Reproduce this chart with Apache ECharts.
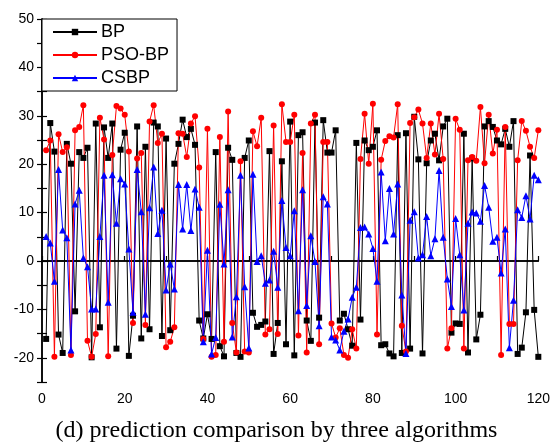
<!DOCTYPE html>
<html>
<head>
<meta charset="utf-8">
<script src="https://cdn.jsdelivr.net/npm/echarts@6/dist/echarts.min.js"></script>
<style>
html,body{margin:0;padding:0;background:#fff;}
#c{width:553px;height:442px;}
</style>
</head>
<body>
<div id="c"></div>
<script>
const samples = Array.from({length:120},(_,i)=>i+1);
const bp = [-16.1,28.5,22.6,-15.2,-19.0,24.2,20.1,-10.4,22.5,21.3,23.4,-19.9,28.4,-13.7,27.6,21.3,28.4,-18.1,23.0,26.5,-19.6,-11.3,27.8,-16.0,23.6,-14.1,28.6,27.8,-15.5,25.3,-14.3,20.1,24.2,29.2,25.6,27.3,24.0,-12.3,-16.0,-11.0,-16.1,22.5,-17.6,-19.7,23.4,20.9,-19.0,-19.8,21.3,24.9,-10.7,-13.6,-13.2,-12.5,22.7,-19.2,-12.8,20.6,-17.2,28.8,-19.5,26.0,26.6,-12.3,-16.5,28.6,-11.7,29.1,22.4,22.4,27.0,-12.3,-10.9,-14.1,-17.5,24.4,-12.1,24.9,22.9,23.6,27.0,-17.4,-17.2,-19.1,-19.7,26.0,-19.0,26.4,-18.1,29.8,21.0,-19.1,20.2,24.9,26.3,20.8,27.8,29.4,-14.8,-12.9,-13.0,26.3,-18.9,21.2,-16.2,-11.1,27.8,28.9,27.7,24.9,24.1,27.3,23.6,28.9,-19.2,-17.9,-10.6,21.8,-10.1,-19.8];
const psobp = [22.9,24.9,-19.8,26.2,22.5,23.5,-19.4,27.0,27.7,32.2,-16.5,-19.8,-15.1,29.6,25.1,-19.7,21.9,32.0,31.5,30.2,22.6,-12.8,21.2,22.3,-13.2,28.8,32.2,24.4,26.3,-17.8,-16.7,-13.7,26.4,26.3,21.5,28.4,29.9,19.3,-16.1,27.3,-19.8,-19.4,25.6,-16.7,30.9,-12.8,-18.9,20.6,-18.7,-18.9,26.8,23.7,29.6,-15.2,-14.1,28.0,-15.1,32.4,24.6,24.6,30.2,-15.4,22.3,-18.9,28.4,30.2,-17.2,24.6,24.6,-12.9,-15.8,-13.9,-19.4,-20.0,-14.1,-18.1,21.1,30.4,20.1,32.5,-15.2,20.9,24.8,25.8,25.5,32.4,-13.4,-18.7,28.5,29.7,31.3,28.4,21.3,28.4,22.0,30.4,21.1,-18.1,-13.9,29.4,27.1,-18.1,20.8,21.5,20.7,31.8,20.2,30.2,22.2,27.1,-19.4,27.7,-13.0,-13.0,20.8,28.9,26.9,23.6,21.3,27.0];
const csbp = [5.05,3.7,-4.2,18.9,6.4,4.8,-18.4,11.8,14.6,0.6,-1.2,-9.9,-9.9,5.05,17.7,-8.5,17.8,7.8,17.0,15.9,2.5,-10.6,18.9,10.2,-11.0,11.0,19.4,5.7,10.5,-6.0,-0.6,-5.8,15.8,6.6,15.8,6.3,14.9,11.1,-16.7,2.2,-19.2,-15.8,11.7,-0.6,14.7,-15.7,-7.4,17.7,-5.3,-18.0,17.9,-0.1,1.1,-4.6,-3.9,2.0,-5.4,12.5,2.8,1.1,10.4,-10.3,14.7,-9.2,5.2,-0.1,-13.4,13.3,11.8,-15.7,-16.3,-18.4,-14.5,-12.0,-7.5,-5.4,6.9,7.0,5.6,2.6,-4.2,18.4,4.2,15.0,5.6,15.9,-7.0,-19.1,8.4,10.2,0.6,1.3,9.2,1.1,4.6,18.7,4.9,-3.7,-9.4,8.8,1.3,-10.1,7.8,10.1,9.9,8.2,15.6,11.1,4.1,4.9,-2.5,6.6,-17.9,-8.1,10.6,9.0,13.5,8.7,17.7,16.8];
const seriesNames = ['BP','PSO-BP','CSBP'];
const xTickLabels = [0,20,40,60,80,100,120];
const yTickLabels = [-20,-10,0,10,20,30,40,50];
const caption = '(d) prediction comparison by three algorithms';

const pair = arr => samples.map((x,i)=>[x,arr[i]]);
const chart = echarts.init(document.getElementById('c'));
const axisLine = {show:true, lineStyle:{color:'#000', width:1.5}};
const fontFam = '"Liberation Sans", Arial, sans-serif';
chart.setOption({
  backgroundColor:'#fff',
  animation:false,
  title:{text:caption, left:'center', top:414,
    textStyle:{fontFamily:'"Liberation Serif","Times New Roman",serif', fontSize:24, fontWeight:'normal', color:'#000'}},
  grid:{left:42, top:19, right:13, bottom:60, containLabel:false},
  legend:{orient:'vertical', left:42, top:19, padding:[4,8,4,10], itemGap:5,
    itemWidth:44, itemHeight:8, borderColor:'#000', borderWidth:1, backgroundColor:'#fff',
    data:seriesNames,
    textStyle:{fontFamily:fontFam, fontSize:18, color:'#000', padding:[0,0,0,-1]}},
  xAxis:[{type:'value', min:0, max:120, interval:10, position:'bottom',
    axisLine:axisLine, axisTick:{show:true, inside:true, length:5, lineStyle:{color:'#000', width:1.2}},
    splitLine:{show:false},
    axisLabel:{fontFamily:fontFam, fontSize:14, color:'#000', margin:10,
      formatter:v=> xTickLabels.includes(v) ? String(v) : ''}},
    {type:'value', min:0, max:120, position:'top', axisLine:axisLine, axisTick:{show:false}, axisLabel:{show:false}, splitLine:{show:false}}],
  yAxis:[{type:'value', min:-25, max:50, interval:5, position:'left',
    axisLine:axisLine, axisTick:{show:true, inside:true, length:5, lineStyle:{color:'#000', width:1.2}},
    splitLine:{show:false},
    axisLabel:{fontFamily:fontFam, fontSize:14, color:'#000', margin:8,
      formatter:v=> yTickLabels.includes(v) ? String(v) : ''}},
    {type:'value', min:-25, max:50, interval:5, position:'right',
    axisLine:axisLine, axisTick:{show:true, inside:true, length:5, lineStyle:{color:'#000', width:1.2}},
    axisLabel:{show:false}, splitLine:{show:false}}],
  series:[
    {name:'BP', type:'line', data:pair(bp), symbol:'rect', symbolSize:6,
      lineStyle:{color:'#000', width:1}, itemStyle:{color:'#000'}},
    {name:'PSO-BP', type:'line', data:pair(psobp), symbol:'circle', symbolSize:6,
      lineStyle:{color:'#ff0000', width:1}, itemStyle:{color:'#ff0000'}},
    {name:'CSBP', type:'line', data:pair(csbp), symbol:'triangle', symbolSize:7,
      lineStyle:{color:'#0000ff', width:1}, itemStyle:{color:'#0000ff'}}
  ]
});
</script>
</body>
</html>
